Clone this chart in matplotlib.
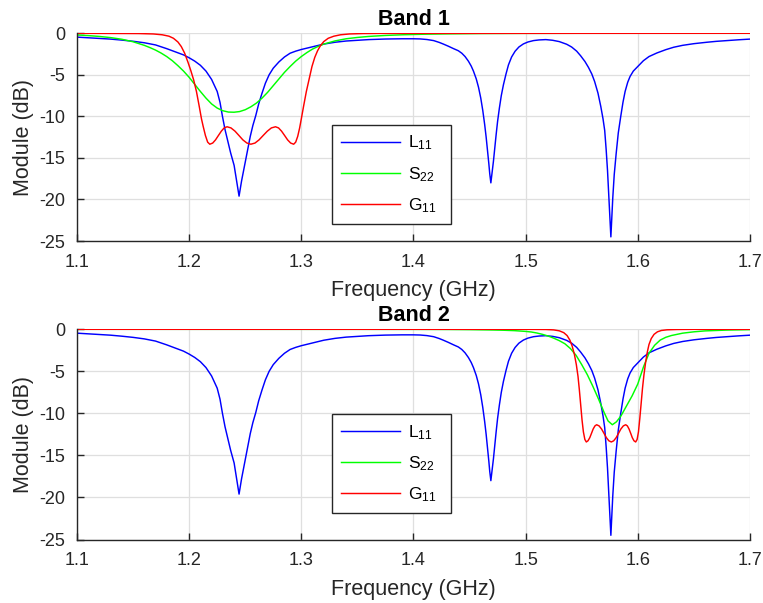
import matplotlib
matplotlib.use("Agg")
import matplotlib.pyplot as plt

plt.rcParams['font.family'] = ['Liberation Sans', 'DejaVu Sans']
plt.rcParams['mathtext.default'] = 'regular'
plt.rcParams['axes.unicode_minus'] = False

# L11 response (same in both bands)
f_L11 = [1.100, 1.110, 1.120, 1.130, 1.140, 1.150, 1.160, 1.170, 1.180, 1.190,
         1.195, 1.200, 1.205, 1.210, 1.215, 1.220, 1.225, 1.2275, 1.2297, 1.232,
         1.2345, 1.237, 1.2401, 1.2425, 1.2445, 1.2467, 1.2497, 1.252, 1.2545, 1.2568,
         1.2594, 1.262, 1.265, 1.268, 1.2713, 1.275, 1.280, 1.285, 1.290, 1.295,
         1.300, 1.310, 1.320, 1.330, 1.340, 1.350, 1.360, 1.375, 1.390, 1.400,
         1.406, 1.412, 1.418, 1.423, 1.4267, 1.431, 1.4356, 1.440, 1.4431, 1.446,
         1.449, 1.4515, 1.4535, 1.456, 1.458, 1.460, 1.4618, 1.4635, 1.4648, 1.466,
         1.4672, 1.468, 1.469, 1.4701, 1.4713, 1.4725, 1.4737, 1.475, 1.4766, 1.4783,
         1.4802, 1.4825, 1.4847, 1.4875, 1.4906, 1.494, 1.498, 1.502, 1.507, 1.512,
         1.518, 1.524, 1.530, 1.5366, 1.541, 1.5455, 1.549, 1.5529, 1.556, 1.559,
         1.5615, 1.5645, 1.567, 1.569, 1.5705, 1.5718, 1.573, 1.5741, 1.5751, 1.576,
         1.5768, 1.5777, 1.579, 1.5807, 1.5826, 1.5848, 1.5868, 1.5887, 1.591, 1.5931,
         1.596, 1.600, 1.605, 1.610, 1.617, 1.625, 1.632, 1.640, 1.650, 1.6615,
         1.670, 1.680, 1.690, 1.700]
L11 = [-0.46, -0.54, -0.61, -0.70, -0.82, -0.96, -1.14, -1.40, -1.85, -2.35,
       -2.60, -2.95, -3.35, -3.85, -4.55, -5.55, -7.00, -8.30, -10.0, -11.6,
       -13.0, -14.4, -15.9, -17.9, -19.6, -17.8, -15.7, -14.1, -12.4, -11.1,
       -9.9, -8.5, -7.2, -6.0, -5.0, -4.2, -3.45, -2.85, -2.40, -2.15,
       -1.95, -1.62, -1.30, -1.08, -0.93, -0.84, -0.76, -0.69, -0.66, -0.66,
       -0.68, -0.75, -0.88, -1.10, -1.30, -1.55, -1.84, -2.10, -2.40, -2.80,
       -3.36, -3.95, -4.56, -5.50, -6.50, -7.80, -9.30, -11.0, -12.5, -14.1,
       -15.7, -16.9, -18.0, -16.8, -15.4, -13.8, -12.2, -10.6, -9.0, -7.5,
       -6.2, -4.9, -3.8, -2.85, -2.16, -1.65, -1.28, -1.05, -0.88, -0.80,
       -0.76, -0.84, -1.00, -1.32, -1.65, -2.15, -2.70, -3.40, -4.10, -4.90,
       -5.80, -7.20, -8.80, -10.3, -11.7, -14.0, -16.5, -19.5, -22.3, -24.5,
       -22.3, -19.8, -17.0, -14.5, -12.0, -10.0, -8.3, -7.0, -5.9, -5.2,
       -4.55, -4.00, -3.30, -2.80, -2.37, -1.97, -1.68, -1.45, -1.25, -1.08,
       -0.97, -0.87, -0.78, -0.70]

# Band 1: S22 and G11
f_S22_b1 = [1.100, 1.110, 1.120, 1.130, 1.140, 1.150, 1.160, 1.165, 1.170, 1.175,
            1.180, 1.185, 1.190, 1.195, 1.200, 1.205, 1.210, 1.215, 1.220, 1.225,
            1.230, 1.235, 1.240, 1.245, 1.250, 1.255, 1.260, 1.265, 1.270, 1.275,
            1.280, 1.285, 1.290, 1.295, 1.300, 1.305, 1.310, 1.315, 1.320, 1.330,
            1.340, 1.350, 1.360, 1.375, 1.390, 1.410, 1.430, 1.460, 1.500, 1.550,
            1.700]
S22_b1 = [-0.20, -0.28, -0.38, -0.52, -0.72, -1.02, -1.45, -1.72, -2.02, -2.38,
          -2.80, -3.30, -3.90, -4.55, -5.30, -6.15, -7.00, -7.80, -8.50, -9.00,
          -9.32, -9.48, -9.50, -9.42, -9.20, -8.85, -8.40, -7.80, -7.10, -6.30,
          -5.50, -4.70, -4.00, -3.35, -2.80, -2.32, -1.90, -1.58, -1.30, -0.92,
          -0.66, -0.50, -0.38, -0.26, -0.18, -0.11, -0.07, -0.03, -0.01, 0.0,
          0.0]

f_G11_b1 = [1.100, 1.155, 1.168, 1.176, 1.182, 1.186, 1.190, 1.193, 1.196, 1.199,
            1.2015, 1.204, 1.2065, 1.209, 1.211, 1.2125, 1.2145, 1.2165, 1.2184, 1.2210,
            1.2235, 1.2261, 1.2287, 1.2312, 1.2338, 1.2373, 1.2409, 1.2444, 1.2479, 1.2515,
            1.2550, 1.2587, 1.2623, 1.2660, 1.2697, 1.2733, 1.2770, 1.2797, 1.2824, 1.2851,
            1.2878, 1.2905, 1.2932, 1.2950, 1.2968, 1.2985, 1.300, 1.302, 1.3045, 1.307,
            1.3095, 1.312, 1.3145, 1.317, 1.320, 1.324, 1.329, 1.335, 1.343, 1.355,
            1.370, 1.700]
G11_b1 = [0.0, -0.03, -0.08, -0.18, -0.35, -0.60, -1.05, -1.60, -2.40, -3.50,
          -4.50, -5.60, -7.00, -8.80, -10.3, -11.2, -12.3, -13.1, -13.35, -13.21,
          -12.83, -12.30, -11.78, -11.39, -11.25, -11.39, -11.78, -12.30, -12.83, -13.21,
          -13.35, -13.21, -12.83, -12.30, -11.78, -11.39, -11.25, -11.39, -11.78, -12.30,
          -12.83, -13.21, -13.35, -13.1, -12.4, -11.4, -10.3, -8.8, -7.0, -5.5,
          -4.0, -2.9, -2.1, -1.5, -1.0, -0.60, -0.35, -0.18, -0.08, -0.03,
          -0.01, 0.0]

# Band 2: S22 and G11
f_S22_b2 = [1.100, 1.350, 1.400, 1.430, 1.450, 1.470, 1.480, 1.490, 1.500, 1.505,
            1.510, 1.515, 1.520, 1.525, 1.530, 1.535, 1.540, 1.545, 1.550, 1.555,
            1.560, 1.565, 1.570, 1.5735, 1.5773, 1.581, 1.585, 1.590, 1.595, 1.600,
            1.605, 1.610, 1.615, 1.620, 1.625, 1.630, 1.640, 1.650, 1.660, 1.680,
            1.700]
S22_b2 = [0.0, -0.005, -0.01, -0.02, -0.04, -0.08, -0.11, -0.16, -0.25, -0.32,
          -0.44, -0.60, -0.80, -1.05, -1.35, -1.72, -2.30, -3.10, -4.20, -5.40,
          -6.80, -8.30, -9.90, -10.9, -11.35, -11.0, -10.3, -9.1, -7.9, -6.5,
          -4.5, -2.85, -1.90, -1.28, -0.95, -0.74, -0.46, -0.30, -0.19, -0.09,
          -0.04]

f_G11_b2 = [1.100, 1.500, 1.518, 1.525, 1.530, 1.534, 1.537, 1.5395, 1.5415, 1.5435,
            1.5452, 1.5467, 1.5479, 1.5491, 1.5503, 1.5515, 1.5528, 1.5541, 1.5556, 1.5572,
            1.5587, 1.5602, 1.5618, 1.5633, 1.5655, 1.5677, 1.5699, 1.5720, 1.5742, 1.5764,
            1.5785, 1.5807, 1.5828, 1.5849, 1.5871, 1.5892, 1.5907, 1.5922, 1.5937, 1.5951,
            1.5966, 1.5981, 1.5994, 1.6006, 1.6018, 1.603, 1.6042, 1.6055, 1.607, 1.6085,
            1.610, 1.612, 1.6145, 1.6175, 1.621, 1.626, 1.635, 1.650, 1.700]
G11_b2 = [0.0, 0.0, -0.02, -0.07, -0.18, -0.40, -0.75, -1.30, -2.00, -3.00,
          -4.20, -5.60, -7.20, -9.00, -10.8, -12.2, -13.1, -13.4, -13.26, -12.89,
          -12.38, -11.86, -11.49, -11.35, -11.49, -11.86, -12.38, -12.89, -13.26, -13.4,
          -13.26, -12.89, -12.38, -11.86, -11.49, -11.35, -11.49, -11.86, -12.38, -12.89,
          -13.26, -13.4, -13.1, -12.2, -10.6, -8.8, -7.0, -5.4, -3.9, -2.7,
          -1.8, -1.1, -0.60, -0.30, -0.14, -0.06, -0.02, 0.0, 0.0]

labels = ['L$_{11}$', 'S$_{22}$', 'G$_{11}$']
xticks = [1.1, 1.2, 1.3, 1.4, 1.5, 1.6, 1.7]
yticks = [-25, -20, -15, -10, -5, 0]

axis_col = '#262626'

fig = plt.figure(figsize=(7.63, 6.03), dpi=100)
ax1 = fig.add_axes([0.1009, 0.6003, 0.8820, 0.3445])
ax2 = fig.add_axes([0.1009, 0.1053, 0.8820, 0.3486])

panels = [
    (ax1, 'Band 1', f_S22_b1, S22_b1, f_G11_b1, G11_b1, (0.379, 0.087, 0.177, 0.471)),
    (ax2, 'Band 2', f_S22_b2, S22_b2, f_G11_b2, G11_b2, (0.379, 0.132, 0.177, 0.463)),
]

for ax, title, fs, s22, fg, g11, lbox in panels:
    ax.plot(f_L11, L11, color=(0, 0, 1), lw=1.05, label=labels[0])
    ax.plot(fs, s22, color=(0, 1, 0), lw=1.05, label=labels[1])
    ax.plot(fg, g11, color=(1, 0, 0), lw=1.05, label=labels[2])

    ax.set_xlim(1.1, 1.7)
    ax.set_ylim(-25, 0)
    ax.set_xticks(xticks)
    ax.set_yticks(yticks)
    ax.set_xticklabels(['1.1', '1.2', '1.3', '1.4', '1.5', '1.6', '1.7'])
    ax.grid(True, color='#dfdfdf', lw=0.9)
    ax.set_axisbelow(True)

    for side in ['top', 'right']:
        ax.spines[side].set_visible(False)
    for side in ['left', 'bottom']:
        ax.spines[side].set_color(axis_col)
        ax.spines[side].set_linewidth(1.0)
    ax.tick_params(direction='in', length=5, width=1.0, colors=axis_col,
                   labelsize=13)
    ax.tick_params(axis='x', pad=9)
    ax.tick_params(axis='y', pad=8.5)

    ax.set_title(title, fontsize=15.5, fontweight='bold', pad=6)
    ax.set_xlabel('Frequency (GHz)', fontsize=15.5, color=axis_col, labelpad=7)
    ax.set_ylabel('Module (dB)', fontsize=15.5, color=axis_col, labelpad=4)

    leg = ax.legend(loc='upper left', bbox_to_anchor=lbox, mode='expand',
                    fontsize=12.5, frameon=True, fancybox=False,
                    edgecolor='#262626', framealpha=1, handlelength=3.4,
                    handletextpad=0.5, labelspacing=0.72, borderpad=0.5,
                    borderaxespad=0)
    leg.get_frame().set_linewidth(1.0)

fig.savefig('out.png', dpi=100)
